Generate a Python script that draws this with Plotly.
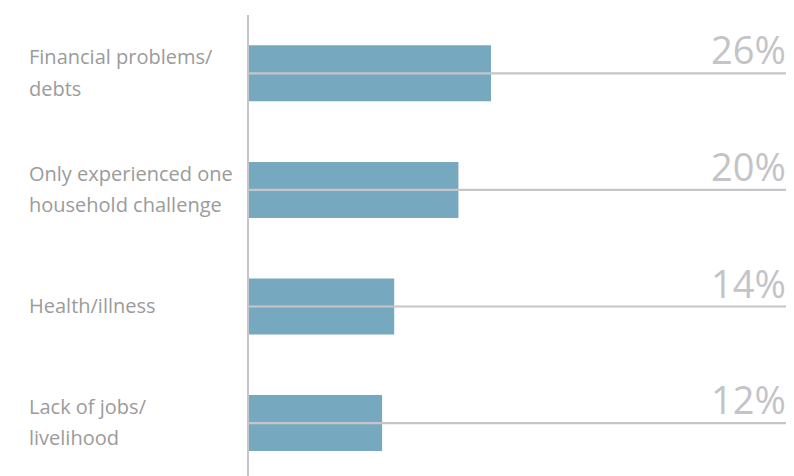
import plotly.graph_objects as go

categories = ["Financial problems/<br>debts",
              "Only experienced one<br>household challenge",
              "Health/illness",
              "Lack of jobs/<br>livelihood"]
bar_values = [26.0, 22.5, 15.6, 14.3]
value_labels = ["26%", "20%", "14%", "12%"]

# page body has an 8px default margin, so the figure is drawn 8px in from the window
OFF = 8
W, H = 794 - OFF, 476 - OFF
ML, MR, MT, MB = 249 - OFF, 6, 15 - OFF, 0
plot_w = W - ML - MR
px_per_unit = 242 / 26.0
x_max = plot_w / px_per_unit

BAR_COLOR = "#76a9bf"
LINE_COLOR = "#c6c6ca"
LABEL_COLOR = "#9b9b9b"
PCT_COLOR = "#c4c4c8"
FONT = "Open Sans"

fig = go.Figure()
fig.add_trace(go.Bar(
    x=bar_values, y=categories, orientation="h",
    marker=dict(color=BAR_COLOR, line=dict(width=0)),
    width=0.48, hoverinfo="skip", showlegend=False,
))
for c in categories:
    fig.add_trace(go.Scatter(
        x=[0, x_max], y=[c, c], mode="lines",
        line=dict(color=LINE_COLOR, width=2.2),
        hoverinfo="skip", showlegend=False, cliponaxis=False,
    ))

annotations = []
label_x = (27 - OFF - ML) / plot_w
for c, lab in zip(categories, value_labels):
    lines = c.split("<br>")
    n = len(lines)
    for i, ln in enumerate(lines):
        shift = (i - (n - 1) / 2) * 31.7
        annotations.append(dict(
            x=label_x, xref="paper", y=c, yref="y",
            text=ln, showarrow=False, xanchor="left", yanchor="middle",
            yshift=-shift + 1,
            font=dict(family=FONT, size=20, color=LABEL_COLOR),
        ))
    annotations.append(dict(
        x=1, xref="paper", y=c, yref="y",
        text=lab, showarrow=False, xanchor="right", yanchor="bottom",
        yshift=-4,
        font=dict(family=FONT, size=38, color=PCT_COLOR),
    ))

span = (H - MT - MB) / 116.6
fig.update_layout(
    width=W, height=H,
    margin=dict(l=ML, r=MR, t=MT, b=MB),
    paper_bgcolor="white", plot_bgcolor="white",
    xaxis=dict(range=[0, x_max], visible=False, fixedrange=True),
    yaxis=dict(
        type="category", categoryorder="array", categoryarray=categories,
        range=[-0.5 + span, -0.5],
        showticklabels=False, showgrid=False, zeroline=False, ticks="",
        showline=True, linecolor=LINE_COLOR, linewidth=2,
    ),
    annotations=annotations,
    bargap=0.52,
)

fig.write_html("out.html")
